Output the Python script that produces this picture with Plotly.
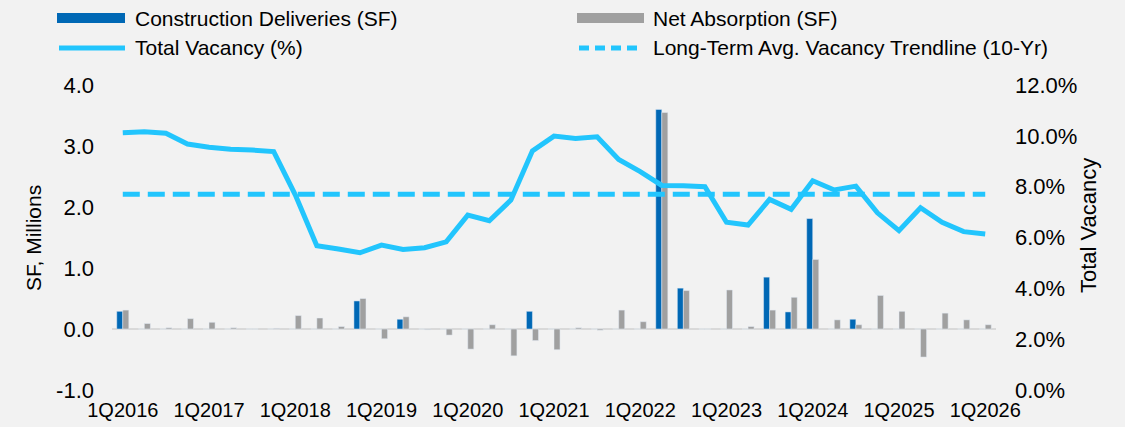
import plotly.graph_objects as go

# --- Données ---
quarters = [f"{q}Q{y}" for y in range(2016, 2026) for q in range(1, 5)] + ["1Q2026"]
tick_labels = [f"1Q{y}" for y in range(2016, 2027)]
sf_ticks = [-1, 0, 1, 2, 3, 4]
sf_tick_text = ["-1.0", "0.0", "1.0", "2.0", "3.0", "4.0"]

deliveries = [
    0.29, 0, 0, 0, 0, 0, 0, 0, 0, 0, 0, 0.46, 0, 0.16, 0, 0, 0, 0, 0, 0.29,
    0, 0, 0, 0, 0, 3.60, 0.67, 0, 0, 0, 0.85, 0.28, 1.81, 0, 0.16, 0, 0, 0, 0, 0, 0,
]
absorption = [
    0.31, 0.09, 0.02, 0.17, 0.11, 0.02, 0, 0.01, 0.22, 0.18, 0.04, 0.50, -0.16,
    0.20, -0.01, -0.10, -0.33, 0.07, -0.44, -0.19, -0.34, 0.02, -0.02, 0.31, 0.12,
    3.55, 0.63, 0, 0.64, 0.04, 0.31, 0.52, 1.14, 0.15, 0.07, 0.55, 0.29, -0.46,
    0.26, 0.15, 0.07,
]
vacancy = [
    10.12, 10.16, 10.10, 9.68, 9.55, 9.47, 9.44, 9.38, 7.68, 5.68, 5.55, 5.40,
    5.70, 5.53, 5.60, 5.83, 6.88, 6.66, 7.47, 9.41, 9.99, 9.90, 9.96, 9.07, 8.59,
    8.05, 8.04, 8.00, 6.60, 6.49, 7.50, 7.11, 8.23, 7.87, 8.02, 6.97, 6.27, 7.17,
    6.60, 6.23, 6.14,
]
trend_avg = 7.7
trend = [trend_avg] * len(quarters)

# --- Couleurs / police ---
BLUE = "#0068b5"
GRAY = "#a0a0a0"
LIGHT = "#22c5fd"
BG = "#f2f2f2"
FONT = "Liberation Sans, Arial, sans-serif"

W, H = 1125, 427
L, R, T, B = 112, 129, 85, 37


def px(x):
    return (x - L) / (W - L - R)


def py(y):
    return (H - B - y) / (H - T - B)


fig = go.Figure()

fig.add_trace(go.Bar(x=quarters, y=deliveries, marker_color=BLUE, name="Construction Deliveries (SF)",
                     showlegend=False))
fig.add_trace(go.Bar(x=quarters, y=absorption, marker_color=GRAY, name="Net Absorption (SF)",
                     showlegend=False))
fig.add_trace(go.Scatter(x=quarters, y=trend, yaxis="y2", mode="lines", showlegend=False,
                         line=dict(color=LIGHT, width=5, dash="17px,8px")))
fig.add_trace(go.Scatter(x=quarters, y=vacancy, yaxis="y2", mode="lines", showlegend=False,
                         line=dict(color=LIGHT, width=5)))

# --- Légende dessinée à la main ---
shapes = [
    dict(type="rect", xref="paper", yref="paper", x0=px(57), x1=px(125), y0=py(13), y1=py(23),
         fillcolor=BLUE, line_width=0),
    dict(type="rect", xref="paper", yref="paper", x0=px(577), x1=px(644), y0=py(13), y1=py(23),
         fillcolor=GRAY, line_width=0),
    dict(type="line", xref="paper", yref="paper", x0=px(59), x1=px(125), y0=py(48), y1=py(48),
         line=dict(color=LIGHT, width=5)),
    dict(type="line", xref="paper", yref="paper", x0=px(579), x1=px(638), y0=py(48), y1=py(48),
         line=dict(color=LIGHT, width=5, dash="10px,6px")),
]
legend_items = [
    ("Construction Deliveries (SF)", 133, 18),
    ("Net Absorption (SF)", 651, 18),
    ("Total Vacancy (%)", 133, 47),
    ("Long-Term Avg. Vacancy Trendline (10-Yr)", 651, 47),
]
annotations = [
    dict(text=t, xref="paper", yref="paper", x=px(x), y=py(y), xanchor="left", yanchor="middle",
         showarrow=False, font=dict(size=21, color="#000000"))
    for t, x, y in legend_items
]
annotations += [
    dict(text="SF, Millions", xref="paper", yref="paper", x=px(33), y=py(238), textangle=-90,
         xanchor="center", yanchor="middle", showarrow=False, font=dict(size=21, color="#000000")),
    dict(text="Total Vacancy", xref="paper", yref="paper", x=px(1088), y=py(226), textangle=-90,
         xanchor="center", yanchor="middle", showarrow=False, font=dict(size=22, color="#000000")),
]

fig.update_layout(
    width=W, height=H,
    margin=dict(l=L, r=R, t=T, b=B),
    paper_bgcolor=BG, plot_bgcolor=BG,
    font=dict(family=FONT, color="#000000"),
    barmode="group", bargap=0.44, bargroupgap=0,
    showlegend=False,
    shapes=shapes,
    annotations=annotations,
    xaxis=dict(
        type="category", tickmode="array", tickvals=tick_labels, ticktext=tick_labels,
        showgrid=False, showline=False, ticks="", tickfont=dict(size=20), automargin=False,
        ticklabelstandoff=6, range=[-0.5, len(quarters) - 0.5],
    ),
    yaxis=dict(
        range=[-1, 4], tickmode="array", tickvals=sf_ticks, ticktext=sf_tick_text,
        showgrid=False, zeroline=True, automargin=False,
        zerolinecolor="#d9d9d9", zerolinewidth=2, ticks="", ticklabelstandoff=17,
        tickfont=dict(size=22),
    ),
    yaxis2=dict(
        overlaying="y", side="right", range=[0, 12], dtick=2, tickformat=".1f", ticksuffix="%",
        showgrid=False, zeroline=False, ticks="", ticklabelstandoff=18, tickfont=dict(size=22),
        automargin=False,
    ),
)

# page sans marge pour que le graphique démarre en (0, 0)
fig.write_html("out.html", config={"displayModeBar": False},
               post_script="document.body.style.margin='0';")
